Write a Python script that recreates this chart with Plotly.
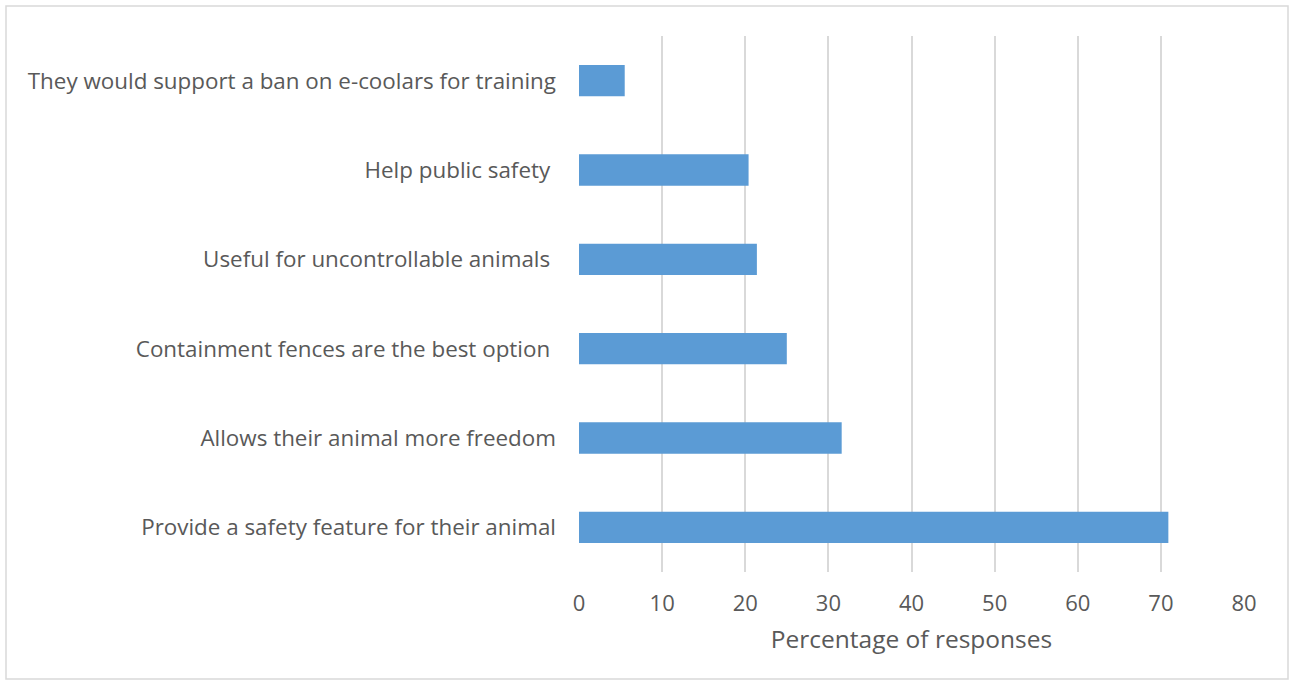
import plotly.graph_objects as go

categories = [
    "Provide a safety feature for their animal",
    "Allows their animal more freedom",
    "Containment fences are the best option ",
    "Useful for uncontrollable animals ",
    "Help public safety ",
    "They would support a ban on e-coolars for training",
]
values = [70.9, 31.6, 25.0, 21.4, 20.4, 5.5]
x_ticks = [0, 10, 20, 30, 40, 50, 60, 70, 80]

W, H = 1295, 683
L, R, T, B = 579, 51, 36, 111
pw, ph = W - L - R, H - T - B

fig = go.Figure(go.Bar(
    y=categories, x=values, orientation="h",
    marker=dict(color="#5b9bd5", line=dict(width=0)),
    width=0.35,
))

def px(xp):
    return (xp - L) / pw

def py(yp):
    return (H - B - yp) / ph

fig.add_shape(type="rect", xref="paper", yref="paper",
              x0=px(6), x1=px(1288), y0=py(679), y1=py(6),
              line=dict(color="#d9d9d9", width=1.5), layer="below")

fig.update_layout(
    width=W, height=H,
    margin=dict(l=L, r=R, t=T, b=B),
    paper_bgcolor="white", plot_bgcolor="white",
    font=dict(family="Open Sans", color="#595959", size=22),
    showlegend=False,
    xaxis=dict(
        range=[0, 80], tickvals=x_ticks, showgrid=True,
        gridcolor="#d9d9d9", gridwidth=1.6, zeroline=False,
        showline=False, ticks="", ticklabelstandoff=16,
        tickfont=dict(size=22, color="#595959"),
        title=dict(text="Percentage of responses", font=dict(size=24.5, color="#595959"), standoff=14),
    ),
    yaxis=dict(
        showgrid=False, zeroline=False, showline=False, ticks="",
        ticklabelstandoff=22, tickfont=dict(size=22.4, color="#595959"),
    ),
)

fig.write_html("out.html", config={"displayModeBar": False},
               post_script="document.body.style.margin='0';document.body.style.overflow='hidden';")
